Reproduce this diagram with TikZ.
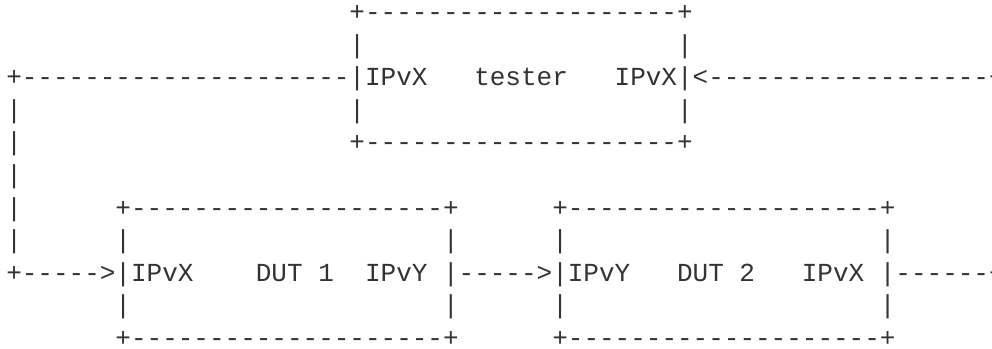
\documentclass[tikz,border=0pt]{standalone}
\usepackage{fontspec}
\setmonofont{Liberation Mono}
\definecolor{ink}{RGB}{51,51,51}
% empty columns of the ascii art
\newcommand{\blank}[1]{\hskip\dimexpr #1em*6/10\relax}
\tikzset{art/.style={anchor=base west,inner sep=0pt,text=ink,
    font=\ttfamily\fontsize{19.5pt}{24pt}\selectfont}}

\begin{document}
\begin{tikzpicture}[x=0.75pt,y=-0.75pt]
  \useasboundingbox (0,0) rectangle (992,349);
  % tester
  \node[art] (row1) at (6,21) {\blank{22}+--------------------+};
  \node[art] (row2) at (6,53.5) {\blank{22}|\blank{20}|};
  \node[art] (row3) at (6,86) {+---------------------|IPvX\blank{3}tester\blank{3}IPvX|<------------------+};
  \node[art] (row4) at (6,118.5) {|\blank{21}|\blank{20}|};
  \node[art] (row5) at (6,151) {|\blank{21}+--------------------+};
  \node[art] (row6) at (6,183.5) {|};
  % DUT 1 and DUT 2
  \node[art] (row7) at (6,216) {|\blank{6}+--------------------+\blank{6}+--------------------+};
  \node[art] (row8) at (6,248.5) {|\blank{6}|\blank{20}|\blank{6}|\blank{20}|};
  \node[art] (row9) at (6,281) {+----->|IPvX\blank{4}DUT\blank{1}1\blank{2}IPvY\blank{1}|----->|IPvY\blank{3}DUT\blank{1}2\blank{3}IPvX\blank{1}|------+};
  \node[art] (row10) at (6,313.5) {\blank{7}|\blank{20}|\blank{6}|\blank{20}|};
  \node[art] (row11) at (6,346) {\blank{7}+--------------------+\blank{6}+--------------------+};
\end{tikzpicture}
\end{document}
